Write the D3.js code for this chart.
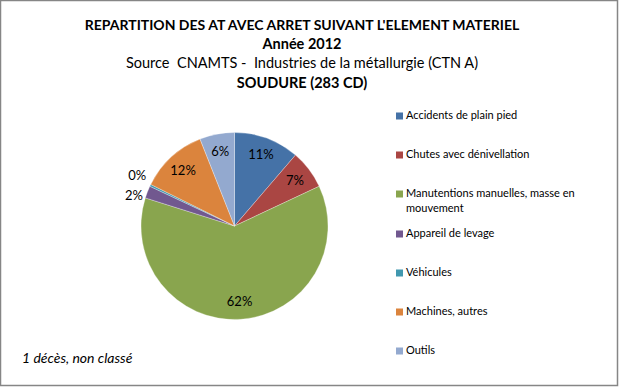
<!DOCTYPE html>
<html>
<head>
<meta charset="utf-8">
<script src="https://cdn.jsdelivr.net/npm/d3@7"></script>
<style>
  body { margin: 0; background: #fff; }
  text { font-family: Lato, "Open Sans", sans-serif; fill: #000; white-space: pre; }
</style>
</head>
<body>
<div id="chart"></div>
<script>
var categories = ["Accidents de plain pied", "Chutes avec dénivellation", "Manutentions manuelles, masse en mouvement",
                  "Appareil de levage", "Véhicules", "Machines, autres", "Outils"];
var counts = [32, 19, 175, 6, 1, 33, 17];
var colors = ["#4572A7", "#AA4643", "#89A54E", "#71588F", "#4198AF", "#DB843D", "#93A9CF"];
var titles = ["REPARTITION DES AT AVEC ARRET SUIVANT L'ELEMENT MATERIEL", "Année 2012",
              "Source  CNAMTS -  Industries de la métallurgie (CTN A)", "SOUDURE (283 CD)"];
var note = "1 décès, non classé";

var width = 619, height = 387;
var total = d3.sum(counts);

var svg = d3.select("#chart").append("svg")
    .attr("width", width)
    .attr("height", height);

svg.append("rect")
    .attr("x", 0.5).attr("y", 0.5)
    .attr("width", 617).attr("height", 385)
    .attr("fill", "#fff")
    .attr("stroke", "#868686")
    .attr("stroke-width", 1.5);

// titres
var titleStyle = [
    {y: 29.5, size: 14, weight: "bold"},
    {y: 49, size: 14.5, weight: "bold"},
    {y: 67.5, size: 14.5, weight: "normal"},
    {y: 88, size: 14.5, weight: "bold"}
];
svg.selectAll(".title")
    .data(titles)
    .enter().append("text")
    .attr("class", "title")
    .attr("x", 302)
    .attr("y", function(d, i) { return titleStyle[i].y; })
    .attr("text-anchor", "middle")
    .style("font-size", function(d, i) { return titleStyle[i].size + "px"; })
    .style("font-weight", function(d, i) { return titleStyle[i].weight; })
    .text(function(d) { return d; });

// camembert
var cx = 234.5, cy = 226, r = 93.5;
var pie = d3.pie().sort(null).value(function(d) { return d; });
var arcs = pie(counts);
var arc = d3.arc().innerRadius(0).outerRadius(r);

var g = svg.append("g").attr("transform", "translate(" + cx + "," + cy + ")");

g.selectAll("path")
    .data(arcs)
    .enter().append("path")
    .attr("d", arc)
    .attr("fill", function(d, i) { return colors[i]; })
    .attr("stroke", "#fff")
    .attr("stroke-width", 0.3);

var inArc = d3.arc().innerRadius(76).outerRadius(76);
var outArc = d3.arc().innerRadius(102).outerRadius(102);

// positions des étiquettes, les petites parts à l'extérieur
var labels = arcs.map(function(d) {
    var small = d.value / total < 0.03;
    var p = (small ? outArc : inArc).centroid(d);
    return {x: p[0], y: p[1], small: small, text: Math.round(d.value / total * 100) + "%"};
});
var outs = labels.filter(function(l) { return l.small; });
for (var k = 1; k < outs.length; k++) {
    var gap = outs[k - 1].y - outs[k].y;
    if (gap < 20) {
        var shift = (20 - gap) / 2;
        outs[k - 1].y += shift;
        outs[k].y -= shift;
    }
}

g.selectAll(".lbl")
    .data(labels)
    .enter().append("text")
    .attr("class", "lbl")
    .attr("x", function(d) { return d.small ? d.x + 3.5 : d.x; })
    .attr("y", function(d) { return d.y; })
    .attr("text-anchor", function(d) { return d.small ? "end" : "middle"; })
    .attr("dy", "0.35em")
    .style("font-size", "13px")
    .text(function(d) { return d.text; });

// légende
var legendY = [119, 158, 197, 237, 276, 315, 354];
var leg = svg.selectAll(".leg")
    .data(categories)
    .enter().append("g")
    .attr("class", "leg")
    .attr("transform", function(d, i) { return "translate(396," + legendY[i] + ")"; });

leg.append("rect")
    .attr("x", 0).attr("y", -6.5)
    .attr("width", 7).attr("height", 7)
    .attr("fill", function(d, i) { return colors[i]; });

leg.append("text")
    .attr("x", 10)
    .attr("y", 0)
    .style("font-size", "11px")
    .each(function(d) {
        var t = d3.select(this);
        var lines = d === categories[2] ? ["Manutentions manuelles, masse en", "mouvement"] : [d];
        lines.forEach(function(l, k) {
            t.append("tspan").attr("x", 10).attr("dy", k ? 15 : 0).text(l);
        });
    });

svg.append("text")
    .attr("x", 22)
    .attr("y", 363)
    .style("font-size", "14px")
    .style("font-style", "italic")
    .text(note);
</script>
</body>
</html>
